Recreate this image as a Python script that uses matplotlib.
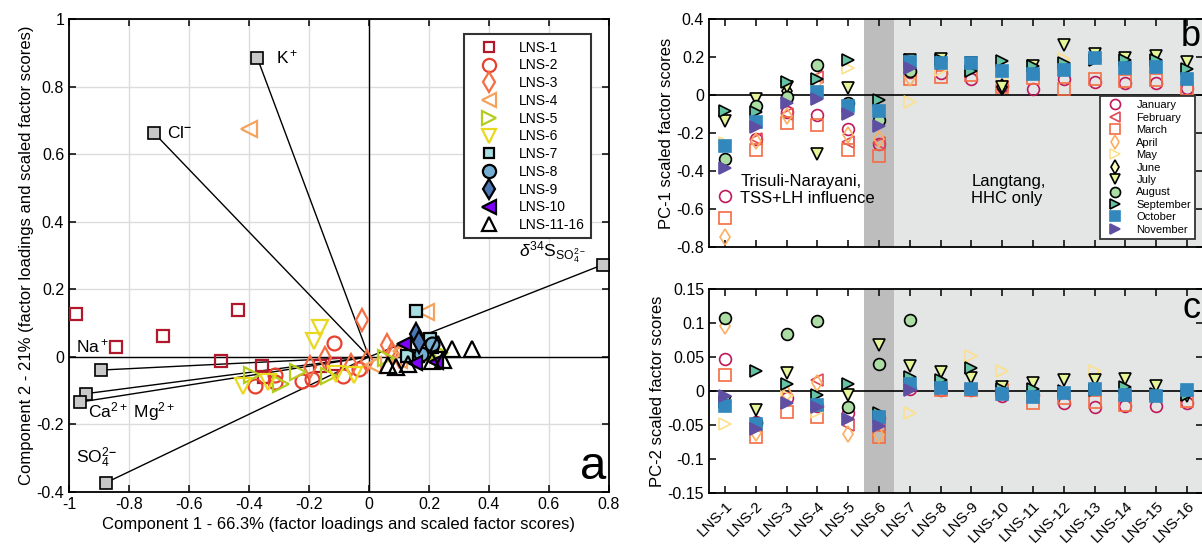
import numpy as np
import matplotlib.pyplot as plt
from matplotlib.ticker import FuncFormatter

plt.rcParams['font.family'] = ['Liberation Sans', 'DejaVu Sans']
plt.rcParams['mathtext.fontset'] = 'custom'
plt.rcParams['mathtext.rm'] = 'Liberation Sans'
plt.rcParams['mathtext.it'] = 'Liberation Sans:italic'
plt.rcParams['mathtext.bf'] = 'Liberation Sans:bold'

nan = np.nan

# ---- panel a: loadings ----
load_names = ["K", "Cl", "Na", "Mg", "Ca", "SO4", "d34S"]
load_x = [-0.372, -0.718, -0.892, -0.944, -0.964, -0.878, 0.78]
load_y = [0.884, 0.664, -0.039, -0.109, -0.134, -0.373, 0.273]

# ---- panel a: scores per site ----
lns1_x = [-0.977, -0.843, -0.688, -0.438, -0.493, -0.357, -0.349, -0.164, -0.112]
lns1_y = [0.126, 0.030, 0.061, 0.139, -0.011, -0.027, -0.060, -0.026, -0.020]
lns2_x = [-0.117, -0.381, -0.315, -0.315, -0.223, -0.191, -0.087, -0.032]
lns2_y = [0.040, -0.085, -0.055, -0.075, -0.072, -0.065, -0.058, -0.036]
lns3_x = [-0.022, 0.061, 0.076, -0.006, -0.061, -0.146, -0.197, 0.100]
lns3_y = [0.110, 0.035, 0.012, -0.013, -0.024, -0.003, -0.029, 0.002]
lns4_x = [-0.399, 0.191, 0.108, 0.013, 0.100]
lns4_y = [0.673, 0.134, 0.017, -0.024, -0.008]
lns5_x = [0.197, 0.236, 0.057, -0.236, -0.293, -0.134, -0.389]
lns5_y = [0.004, 0.012, -0.003, -0.044, -0.080, -0.057, -0.055]
lns6_x = [-0.162, -0.182, -0.420, -0.338, -0.051, -0.110]
lns6_y = [0.084, 0.048, -0.085, -0.075, -0.055, -0.050]
lns7_x = [0.155, 0.204, 0.162, 0.210, 0.127]
lns7_y = [0.136, 0.053, 0.002, 0.028, 0.002]
lns8_x = [0.210, 0.172]
lns8_y = [0.038, 0.008]
lns9_x = [0.155, 0.166]
lns9_y = [0.069, 0.043]
lns10_x = [0.115, 0.153, 0.222]
lns10_y = [0.038, -0.019, -0.015]
lns11_x = [0.344, 0.276, 0.229, 0.089, 0.064, 0.248, 0.210, 0.130]
lns11_y = [0.023, 0.023, 0.038, -0.029, -0.024, -0.008, -0.013, -0.020]

site_labels = ["LNS-1", "LNS-2", "LNS-3", "LNS-4", "LNS-5", "LNS-6", "LNS-7",
               "LNS-8", "LNS-9", "LNS-10", "LNS-11-16"]

# ---- panels b, c: monthly scores for LNS-1 ... LNS-16 ----
sites = np.arange(1, 17)
site_ticks = [f"LNS-{i}" for i in sites]
month_names = ["January", "February", "March", "April", "May", "June", "July",
               "August", "September", "October", "November"]

pc1_jan = [-0.53, -0.234, -0.091, -0.105, -0.178, -0.26, 0.12, 0.117, 0.086, 0.05, 0.03, 0.082, 0.07, 0.065, 0.065, 0.039]
pc1_feb = [nan, -0.23, -0.10, 0.096, -0.248, -0.25, nan, nan, nan, nan, nan, nan, nan, nan, nan, nan]
pc1_mar = [-0.647, -0.291, -0.147, -0.157, -0.291, -0.321, 0.082, 0.096, 0.103, 0.04, 0.091, 0.034, 0.086, 0.073, 0.079, 0.03]
pc1_apr = [-0.748, -0.244, -0.109, 0.07, -0.213, -0.23, 0.091, nan, nan, nan, nan, nan, nan, nan, nan, nan]
pc1_may = [-0.25, -0.15, nan, nan, 0.143, nan, -0.036, 0.134, nan, 0.091, nan, 0.19, nan, nan, nan, nan]
pc1_jun = [nan, nan, 0.02, nan, nan, nan, 0.17, nan, nan, 0.044, nan, nan, nan, nan, nan, nan]
pc1_jul = [-0.135, -0.019, 0.044, -0.309, 0.039, nan, 0.186, 0.19, 0.169, 0.044, 0.155, 0.265, 0.216, 0.195, 0.207, 0.172]
pc1_aug = [-0.335, -0.06, -0.009, 0.159, -0.043, -0.13, 0.126, nan, nan, nan, nan, nan, nan, nan, nan, nan]
pc1_sep = [-0.083, -0.091, 0.068, 0.082, 0.183, -0.027, 0.182, 0.186, 0.126, 0.178, 0.152, 0.169, 0.186, 0.183, 0.186, 0.138]
pc1_oct = [-0.269, -0.144, nan, 0.017, -0.057, -0.085, 0.172, 0.169, 0.166, 0.126, 0.113, 0.134, 0.195, 0.143, 0.146, 0.082]
pc1_nov = [-0.383, -0.17, -0.043, -0.023, -0.1, -0.164, 0.143, nan, nan, nan, nan, nan, nan, nan, nan, nan]

pc2_jan = [0.047, -0.045, -0.011, -0.022, -0.032, -0.039, 0.003, 0.002, 0.002, -0.008, -0.006, -0.018, -0.024, -0.022, -0.022, -0.018]
pc2_feb = [nan, nan, nan, 0.016, -0.05, -0.053, nan, nan, nan, nan, nan, nan, nan, nan, nan, nan]
pc2_mar = [0.024, -0.068, -0.031, -0.038, nan, -0.067, nan, 0.002, 0.001, 0.002, -0.018, -0.011, -0.016, -0.021, nan, -0.015]
pc2_apr = [0.096, -0.062, -0.005, 0.012, -0.063, -0.064, nan, nan, nan, nan, nan, nan, nan, nan, nan, nan]
pc2_may = [-0.048, nan, -0.008, -0.031, nan, nan, -0.033, nan, 0.052, 0.030, nan, nan, 0.029, nan, nan, nan]
pc2_jun = [nan] * 16
pc2_jul = [-0.016, -0.028, 0.026, nan, -0.006, 0.067, 0.037, 0.028, 0.019, 0.006, 0.012, 0.016, 0.016, 0.017, 0.007, -0.008]
pc2_aug = [0.107, -0.047, 0.084, 0.103, -0.024, 0.040, 0.105, nan, nan, nan, nan, nan, nan, nan, nan, nan]
pc2_sep = [-0.016, 0.030, 0.011, -0.006, 0.011, -0.033, 0.02, 0.016, 0.034, 0.003, 0.003, 0.0, 0.002, 0.006, -0.005, -0.006]
pc2_oct = [-0.022, -0.048, nan, -0.021, nan, -0.038, 0.011, 0.005, 0.003, -0.005, -0.009, -0.003, 0.003, -0.006, -0.007, 0.002]
pc2_nov = [-0.008, -0.056, -0.018, -0.023, -0.041, -0.052, 0.001, nan, nan, nan, nan, nan, nan, nan, nan, nan]

pc1_all = [pc1_jan, pc1_feb, pc1_mar, pc1_apr, pc1_may, pc1_jun, pc1_jul, pc1_aug, pc1_sep, pc1_oct, pc1_nov]
pc2_all = [pc2_jan, pc2_feb, pc2_mar, pc2_apr, pc2_may, pc2_jun, pc2_jul, pc2_aug, pc2_sep, pc2_oct, pc2_nov]

# styles
site_styles = [
    dict(marker='s', ms=8, mfc='none', mec='#B2182B'),
    dict(marker='o', ms=10, mfc='none', mec='#E8402F'),
    dict(marker='d', ms=11, mfc='none', mec='#F46D43'),
    dict(marker='<', ms=11, mfc='none', mec='#F5A35C'),
    dict(marker='>', ms=11, mfc='none', mec='#B5CC1F'),
    dict(marker='v', ms=11, mfc='none', mec='#EAD81E'),
    dict(marker='s', ms=8, mfc='#A8DDE2', mec='k'),
    dict(marker='o', ms=10, mfc='#74ADD1', mec='k'),
    dict(marker='d', ms=11, mfc='#4A77B4', mec='k'),
    dict(marker='<', ms=10, mfc='#7F00FF', mec='k'),
    dict(marker='^', ms=11, mfc='none', mec='k'),
]
month_styles = [
    dict(marker='o', mfc='none', mec='#C0185A'),
    dict(marker='<', mfc='none', mec='#E04A55'),
    dict(marker='s', mfc='none', mec='#F46D43'),
    dict(marker='d', mfc='none', mec='#FDAE61'),
    dict(marker='>', mfc='none', mec='#FEE08B'),
    dict(marker='d', mfc='#FFFFBF', mec='k'),
    dict(marker='v', mfc='#E6F598', mec='k'),
    dict(marker='o', mfc='#ABDDA4', mec='k'),
    dict(marker='>', mfc='#66C2A5', mec='k'),
    dict(marker='s', mfc='#3288BD', mec='#3288BD'),
    dict(marker='>', mfc='#5E4FA2', mec='#5E4FA2'),
]


def style_axes(ax):
    ax.tick_params(direction='in', top=True, right=True, length=5, width=1.1, labelsize=11.5)
    for s in ax.spines.values():
        s.set_linewidth(1.3)


def fmt_short(v, p):
    if abs(v) < 1e-9:
        return "0"
    return f"{v:.2f}".rstrip('0').rstrip('.')


fig = plt.figure(figsize=(12.02, 5.45), dpi=100)

# ================= panel a =================
ax = fig.add_axes([69 / 1202, 1 - 492 / 545, 540 / 1202, 473 / 545])
ax.set_xlim(-1, 0.8)
ax.set_ylim(-0.4, 1)
ax.set_xticks(np.arange(-1, 0.81, 0.2))
ax.set_yticks(np.arange(-0.4, 1.01, 0.2))
ax.xaxis.set_major_formatter(FuncFormatter(fmt_short))
ax.yaxis.set_major_formatter(FuncFormatter(fmt_short))
ax.grid(True, color='#DCDCDC', lw=1)
ax.set_axisbelow(True)
ax.axhline(0, color='k', lw=1)
ax.axvline(0, color='k', lw=1)
style_axes(ax)

for lx, ly in zip(load_x, load_y):
    ax.plot([0, lx], [0, ly], color='k', lw=1, zorder=2)

site_x = [lns1_x, lns2_x, lns3_x, lns4_x, lns5_x, lns6_x, lns7_x, lns8_x, lns9_x, lns10_x, lns11_x]
site_y = [lns1_y, lns2_y, lns3_y, lns4_y, lns5_y, lns6_y, lns7_y, lns8_y, lns9_y, lns10_y, lns11_y]
handles = []
for xs, ys, st, lab in zip(site_x, site_y, site_styles, site_labels):
    h, = ax.plot(xs, ys, ls='none', mew=1.6, label=lab, zorder=3, **st)
    handles.append(h)

ax.plot(load_x, load_y, ls='none', marker='s', ms=9, mfc='#C8C8C8', mec='k', mew=1.2, zorder=4, clip_on=False)

ax.text(-0.31, 0.887, r'K$^+$', fontsize=12.5, va='center')
ax.text(-0.672, 0.662, r'Cl$^{\bf{-}}$', fontsize=12.5, va='center')
ax.text(-0.978, 0.03, r'Na$^+$', fontsize=12.5, va='center')
ax.text(-0.935, -0.163, r'Ca$^{2+}$ Mg$^{2+}$', fontsize=12.5, va='center')
ax.text(-0.978, -0.3, r'SO$_4^{2\mathbf{-}}$', fontsize=12.5, va='center')
ax.text(0.5, 0.31, r'$\delta^{34}$S$_{\mathrm{SO_4^{2-}}}$', fontsize=12.5, va='center', zorder=6)
ax.text(0.79, -0.39, 'a', fontsize=34, ha='right', va='bottom')

ax.set_xlabel('Component 1 - 66.3% (factor loadings and scaled factor scores)', fontsize=12, labelpad=4)
ax.set_ylabel('Component 2 - 21% (factor loadings and scaled factor scores)', fontsize=12, labelpad=2)

leg = ax.legend(handles=handles, loc='upper right', bbox_to_anchor=(0.98, 0.982), fontsize=10,
                frameon=True, fancybox=False, edgecolor='#333333', labelspacing=0.27,
                handletextpad=0.9, borderpad=0.45, handlelength=2.6, markerscale=0.95,
                framealpha=1)
leg.get_frame().set_linewidth(1.5)


# ================= panels b and c =================
def site_panel(ax, data, ylim, yticks, fmt):
    ax.axvspan(5.5, 6.5, color='#BDBDBD', lw=0, zorder=0)
    ax.axvspan(6.5, 17, color='#E4E5E5', lw=0, zorder=0)
    ax.axhline(0, color='k', lw=1.2, zorder=1)
    hs = []
    for vals, st, lab in zip(data, month_styles, month_names):
        h, = ax.plot(sites, vals, ls='none', ms=8.5, mew=1.2, label=lab, zorder=3, **st)
        hs.append(h)
    ax.set_xlim(0.48, 16.52)
    ax.set_ylim(*ylim)
    ax.set_yticks(yticks)
    ax.yaxis.set_major_formatter(FuncFormatter(fmt))
    ax.set_xticks(sites)
    style_axes(ax)
    return hs


def fmt_b(v, p):
    return "0" if abs(v) < 1e-9 else f"{v:.1f}"


axb = fig.add_axes([709 / 1202, 1 - 247 / 545, 494 / 1202, 228 / 545])
hs = site_panel(axb, pc1_all, (-0.8, 0.4), np.arange(-0.8, 0.41, 0.2), fmt_b)
axb.set_xticklabels([])
axb.set_ylabel('PC-1 scaled factor scores', fontsize=12, labelpad=2)
axb.text(1.5, -0.5, 'Trisuli-Narayani,\nTSS+LH influence', fontsize=12, va='center', linespacing=1.15)
axb.text(9.0, -0.5, 'Langtang,\nHHC only', fontsize=12, va='center', linespacing=1.15)
axb.text(16.45, 0.4, 'b', fontsize=26, ha='right', va='top')
legb = axb.legend(handles=hs, loc='lower right', bbox_to_anchor=(0.995, 0.012), fontsize=8,
                  frameon=True, fancybox=False, edgecolor='#333333', labelspacing=0.22,
                  handletextpad=0.9, borderpad=0.35, handlelength=2.0, markerscale=0.85,
                  framealpha=1)
legb.get_frame().set_linewidth(1.3)

axc = fig.add_axes([709 / 1202, 1 - 493 / 545, 494 / 1202, 204 / 545])
site_panel(axc, pc2_all, (-0.15, 0.15), np.arange(-0.15, 0.151, 0.05), fmt_short)
axc.set_xticklabels(site_ticks, rotation=45, ha='right', rotation_mode='anchor', fontsize=11)
axc.tick_params(axis='x', pad=4)
axc.set_ylabel('PC-2 scaled factor scores', fontsize=12, labelpad=2)
axc.text(16.45, 0.147, 'c', fontsize=26, ha='right', va='top')

fig.savefig('out.png', dpi=100)
